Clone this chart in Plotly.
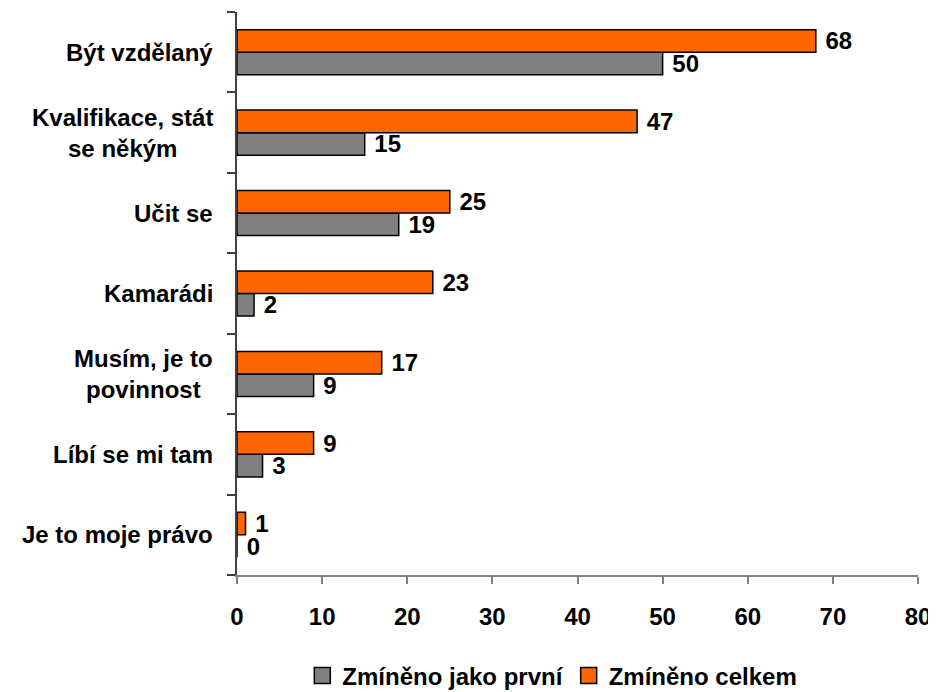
import plotly.graph_objects as go

categories = ["Být vzdělaný", "Kvalifikace, stát<br>se někým", "Učit se", "Kamarádi",
              "Musím, je to<br>povinnost", "Líbí se mi tam", "Je to moje právo"]
first_mentioned = [50, 15, 19, 2, 9, 3, 0]
total_mentioned = [68, 47, 25, 23, 17, 9, 1]
x_ticks = [0, 10, 20, 30, 40, 50, 60, 70, 80]
series_names = ["Zmíněno jako první", "Zmíněno celkem"]
series_colors = ["#808080", "#FF6600"]

# bottom-to-top order for the category axis
cats_bt = categories[::-1]
first_bt = first_mentioned[::-1]
total_bt = total_mentioned[::-1]

FONT = "Liberation Sans, Arial, sans-serif"
FS = 24

fig = go.Figure()
for vals, name, col in zip([first_bt, total_bt], series_names, series_colors):
    fig.add_trace(go.Bar(
        y=cats_bt, x=vals, orientation="h", name=name, showlegend=False,
        marker=dict(color=col, line=dict(color="black", width=1.5)),
        text=[f" {v}" for v in vals], textposition="outside", cliponaxis=False,
        constraintext="none",
        textfont=dict(family=FONT, size=FS, color="black", weight="bold"),
    ))
# legend entries (square swatches)
for name, col in zip(series_names, series_colors):
    fig.add_trace(go.Scatter(
        x=[None], y=[None], mode="markers", name=name, showlegend=True,
        marker=dict(symbol="square", size=16, color=col, line=dict(color="black", width=1.5)),
    ))

for c in categories:
    fig.add_annotation(
        x=0, xref="paper", y=c, yref="y", text=f"<b>{c}</b>", showarrow=False,
        xanchor="right", align="center", xshift=-22,
        font=dict(family=FONT, size=FS, color="black"),
    )

fig.update_layout(
    width=928, height=684,
    margin=dict(l=229, r=18, t=4, b=117),
    paper_bgcolor="white", plot_bgcolor="white",
    barmode="group", bargap=0.44, bargroupgap=0,
    font=dict(family=FONT, size=FS, color="black"),
    showlegend=True,
    legend=dict(orientation="h", x=0.463, xanchor="center", xref="paper",
                y=0.0234, yanchor="middle", yref="container",
                font=dict(family=FONT, size=FS, color="black", weight="bold"),
                itemwidth=30, tracegroupgap=0, itemsizing="trace"),
    xaxis=dict(range=[0, 80], tickvals=x_ticks, showgrid=False, zeroline=False,
               showline=True, linecolor="#808080", linewidth=1.5,
               ticks="outside", ticklen=7, tickcolor="#808080", tickwidth=1.5,
               ticklabelstandoff=12, automargin=False,
               tickfont=dict(family=FONT, size=FS, color="black", weight="bold")),
    yaxis=dict(type="category", categoryorder="array", categoryarray=cats_bt,
               showticklabels=False, showgrid=False, zeroline=False,
               showline=True, linecolor="#404040", linewidth=1.5,
               ticks="outside", ticklen=8, tickcolor="#404040", tickwidth=1.5,
               tickson="boundaries", automargin=False),
)

fig.write_html("out.html")
